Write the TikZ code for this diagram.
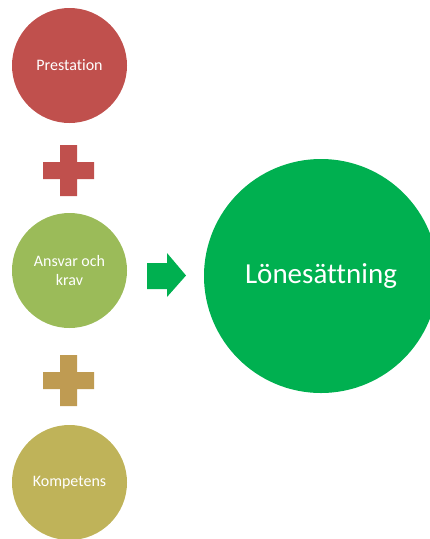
\documentclass[tikz,border=0pt]{standalone}
\usepackage{fontspec}
\setmainfont{Carlito}[Ligatures=NoCommon]
\usetikzlibrary{positioning}
\definecolor{PrestRed}{RGB}{192,80,77}
\definecolor{AnsvarGreen}{RGB}{155,187,89}
\definecolor{PlusGold}{RGB}{191,155,82}
\definecolor{KompOlive}{RGB}{191,179,89}
\definecolor{LoneGreen}{RGB}{0,176,80}
\tikzset{
  factor/.style={circle,inner sep=0pt,minimum size=115pt,text=white,align=center,
    font=\fontsize{16}{19}\selectfont},
}
\begin{document}
\begin{tikzpicture}[x=1pt,y=-1pt]
\useasboundingbox (0,0) rectangle (430,539);
\clip (0,0) rectangle (430,539);
\node[factor,fill=PrestRed] (prest) at (69.5,65.5){Prestation};
\node[factor,fill=AnsvarGreen] (ansvar) at (69.5,270.5){Ansvar och\\krav};
\node[factor,fill=KompOlive] (komp) at (69.5,482.5){Kompetens};
\node[circle,fill=LoneGreen,inner sep=0pt,minimum size=234pt,text=white,
  font=\fontsize{29}{34}\selectfont] (lone) at (321,276){Lönesättning};
% plustecken
\foreach \cy/\col in {170.5/PrestRed,380.5/PlusGold}{
  \fill[\col] (43,\cy-8.5) -- (60,\cy-8.5) -- (60,\cy-25.5) -- (77,\cy-25.5) -- (77,\cy-8.5)
    -- (94,\cy-8.5) -- (94,\cy+8.5) -- (77,\cy+8.5) -- (77,\cy+25.5) -- (60,\cy+25.5)
    -- (60,\cy+8.5) -- (43,\cy+8.5) -- cycle;}
% pil
\fill[LoneGreen] (147,263) -- (167,263) -- (167,253) -- (186,275.5) -- (167,297)
  -- (167,289) -- (147,289) -- cycle;
\end{tikzpicture}
\end{document}
